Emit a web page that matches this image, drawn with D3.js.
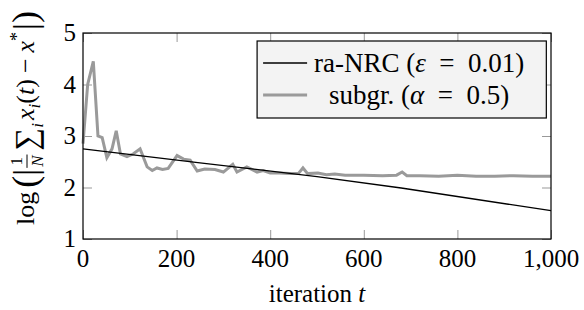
<!DOCTYPE html>
<html>
<head>
<meta charset="utf-8">
<script src="https://cdn.jsdelivr.net/npm/d3@7"></script>
<style>
  body { margin: 0; background: #fff; }
  svg text { font-family: "Liberation Serif", "Times New Roman", Times, "DejaVu Serif", serif; fill: #000; }
</style>
</head>
<body>
<div id="chart"></div>
<script>
// ra-NRC (eps = 0.01)
const nrcIter = [0, 250, 500, 680, 1000];
const nrcVal = [2.75, 2.48, 2.21, 1.99, 1.55];

// subgradient (alpha = 0.5)
const subIter = [0, 10, 22, 32, 41, 51, 62, 71, 80, 94, 107, 122, 137, 148, 158, 170, 182, 201, 215, 229,
  244, 260, 282, 300, 320, 329, 350, 372, 385, 400, 420, 442, 460, 470, 480, 502, 520, 538, 560, 600,
  640, 670, 682, 692, 720, 760, 800, 840, 880, 920, 960, 1000];
const subVal = [2.85, 4.0, 4.45, 3.0, 2.97, 2.58, 2.75, 3.1, 2.65, 2.6, 2.65, 2.75, 2.4, 2.33, 2.38, 2.35, 2.37, 2.62, 2.55, 2.53,
  2.32, 2.36, 2.35, 2.3, 2.45, 2.3, 2.4, 2.3, 2.33, 2.28, 2.28, 2.27, 2.27, 2.38, 2.27, 2.28, 2.25, 2.26, 2.24, 2.24,
  2.23, 2.24, 2.3, 2.23, 2.23, 2.22, 2.24, 2.22, 2.22, 2.23, 2.22, 2.22];

const xTicks = [0, 200, 400, 600, 800, 1000];
const yTicks = [1, 2, 3, 4, 5];
const legendLabels = [
  { pre: "ra-NRC (", sym: "ε", post: "0.01)" },
  { pre: "subgr. (", sym: "α", post: "0.5)" }
];

const width = 584, height = 310;
const margin = { top: 33, right: 33, bottom: 71, left: 83 };
const innerW = width - margin.left - margin.right;
const innerH = height - margin.top - margin.bottom;
const serif = '"Liberation Serif", "Times New Roman", Times, serif';

const svg = d3.select("#chart").append("svg")
    .attr("width", width)
    .attr("height", height)
    .attr("font-family", serif);

const g = svg.append("g")
    .attr("transform", "translate(" + margin.left + "," + margin.top + ")");

const x = d3.scaleLinear().domain([0, 1000]).range([0, innerW]);
const y = d3.scaleLinear().domain([1, 5]).range([innerH, 0]);

const fmt = d3.format(",");

// inner ticks on all four sides
const tickLen = 9;
const axes = [
  { axis: d3.axisBottom(x).tickValues(xTicks).tickSize(-tickLen).tickFormat(""), tr: [0, innerH] },
  { axis: d3.axisTop(x).tickValues(xTicks).tickSize(-tickLen).tickFormat(""), tr: [0, 0] },
  { axis: d3.axisLeft(y).tickValues(yTicks).tickSize(-tickLen).tickFormat(""), tr: [0, 0] },
  { axis: d3.axisRight(y).tickValues(yTicks).tickSize(-tickLen).tickFormat(""), tr: [innerW, 0] }
];
axes.forEach(a => {
  const ag = g.append("g")
      .attr("transform", "translate(" + a.tr[0] + "," + a.tr[1] + ")")
      .call(a.axis);
  ag.select(".domain").remove();
  ag.selectAll(".tick line").attr("stroke", "#999").attr("stroke-width", 1);
});

// tick labels
g.selectAll(".xlab").data(xTicks).enter().append("text")
    .attr("class", "xlab")
    .attr("x", d => x(d))
    .attr("y", innerH + 28)
    .attr("text-anchor", "middle")
    .style("font-family", serif)
    .style("font-size", "25px")
    .text(d => fmt(d));

g.selectAll(".ylab").data(yTicks).enter().append("text")
    .attr("class", "ylab")
    .attr("x", -7)
    .attr("y", d => y(d) + 8)
    .attr("text-anchor", "end")
    .style("font-family", serif)
    .style("font-size", "25px")
    .text(d => d);

// lines
const line = d3.line().x(d => x(d[0])).y(d => y(d[1]));

g.append("path")
    .datum(d3.zip(subIter, subVal))
    .attr("fill", "none")
    .attr("stroke", "#9a9a9a")
    .attr("stroke-width", 3)
    .attr("stroke-linejoin", "miter")
    .attr("d", line);

g.append("path")
    .datum(d3.zip(nrcIter, nrcVal))
    .attr("fill", "none")
    .attr("stroke", "#000")
    .attr("stroke-width", 1.3)
    .attr("d", line);

// frame
g.append("rect")
    .attr("width", innerW)
    .attr("height", innerH)
    .attr("fill", "none")
    .attr("stroke", "#000")
    .attr("stroke-width", 1.2);

// legend
const leg = g.append("g").attr("transform", "translate(" + (x(372)) + ",8)");
const legW = x(990) - x(372), legH = 77;
leg.append("rect")
    .attr("width", legW)
    .attr("height", legH)
    .attr("fill", "#f3f3f3")
    .attr("stroke", "#000")
    .attr("stroke-width", 1.2);
const legStyles = [{ c: "#000", w: 1.3 }, { c: "#9a9a9a", w: 3 }];
legendLabels.forEach((lab, i) => {
  const ly = 22 + i * 32;
  leg.append("line")
      .attr("x1", 6).attr("x2", 50)
      .attr("y1", ly).attr("y2", ly)
      .attr("stroke", legStyles[i].c)
      .attr("stroke-width", legStyles[i].w);
  const t = leg.append("text")
      .attr("x", 162)
      .attr("y", ly + 9)
      .attr("text-anchor", "middle")
      .style("font-family", serif)
      .style("font-size", "27px");
  t.append("tspan").text(lab.pre);
  t.append("tspan").style("font-style", "italic").text(lab.sym);
  t.append("tspan").text("\u2002=\u2002" + lab.post);
});

// x axis title
svg.append("text")
    .attr("x", margin.left + innerW / 2)
    .attr("y", 302)
    .attr("text-anchor", "middle")
    .style("font-family", serif)
    .style("font-size", "25px")
    .html('iteration <tspan font-style="italic">t</tspan>');

// y axis title, laid out piece by piece
const yt = svg.append("g");
const inner = yt.append("g");
let cx = 0;
function piece(txt, opts) {
  opts = opts || {};
  const t = inner.append("text")
      .attr("x", cx)
      .attr("y", opts.dy || 0)
      .style("font-family", serif)
      .style("font-size", (opts.size || 26) + "px")
      .style("font-style", opts.italic ? "italic" : "normal")
      .text(txt);
  const w = t.node().getComputedTextLength();
  if (!opts.noAdvance) cx += w + (opts.gap || 0);
  return t;
}
piece("log", { gap: 4 });
piece("(", { size: 36, dy: 3 });
piece("|", { size: 34, dy: 3, gap: 1 });
// fraction 1/N
const fx = cx;
const t1 = piece("1", { size: 17, dy: -12, noAdvance: true });
const tN = piece("N", { size: 17, dy: 9, italic: true, noAdvance: true });
const fw = Math.max(t1.node().getComputedTextLength(), tN.node().getComputedTextLength()) + 2;
[t1, tN].forEach(t => t.attr("x", fx + (fw - t.node().getComputedTextLength()) / 2));
inner.append("line")
    .attr("x1", fx).attr("x2", fx + fw)
    .attr("y1", -7).attr("y2", -7)
    .attr("stroke", "#000").attr("stroke-width", 1);
cx = fx + fw + 4;
piece("∑", { size: 32, dy: 3 });
piece("i", { size: 17, dy: 9, italic: true, gap: 3 });
piece("x", { italic: true });
piece("i", { size: 17, dy: 6, italic: true });
piece("(");
piece("t", { italic: true });
piece(")", { gap: 6 });
piece("−", { gap: 6 });
piece("x", { italic: true });
piece("*", { size: 18, dy: -11, gap: 2 });
piece("|", { size: 34, dy: 3 });
piece(")", { size: 36, dy: 3 });
inner.attr("transform", "translate(" + (-cx / 2) + ",0)");
yt.attr("transform", "translate(34,118) rotate(-90)");
</script>
</body>
</html>
